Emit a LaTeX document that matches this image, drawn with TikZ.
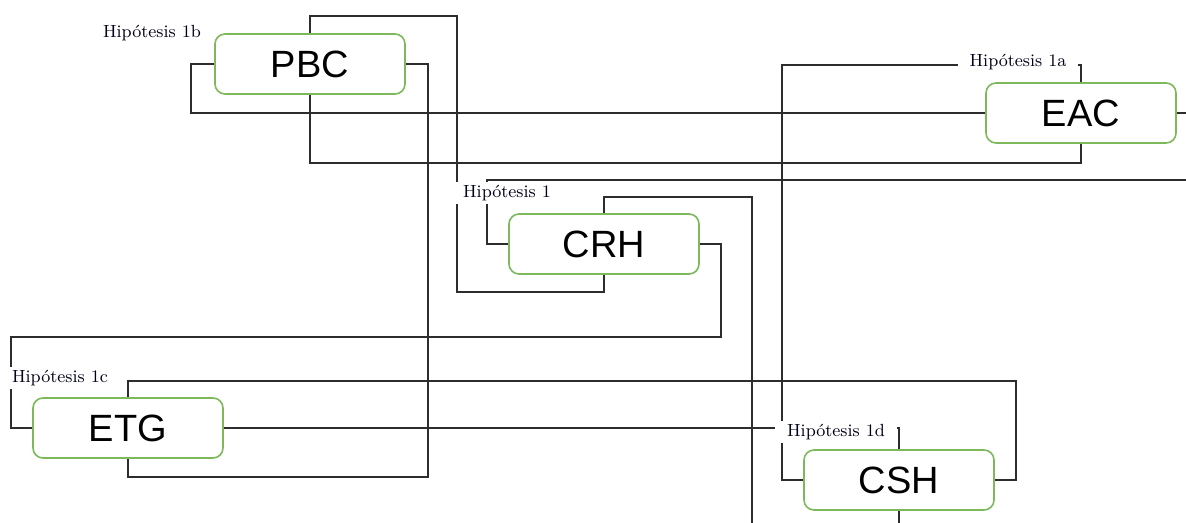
\documentclass[tikz,border=0pt]{standalone}
\usepackage{fontspec}
\usepackage{tikz}
\newfontfamily\boxfont{Liberation Sans}
\definecolor{boxgreen}{RGB}{125,185,90}
\definecolor{linegray}{RGB}{45,45,45}

\begin{document}
\begin{tikzpicture}[x=0.5pt,y=-0.5pt,
    box/.style={draw=boxgreen,line width=0.8pt,rounded corners=5pt,fill=white,
      minimum width=95pt,minimum height=30pt,inner sep=0pt,
      font=\boxfont\fontsize{19}{21}\selectfont},
    hyp/.style={fill=white,inner xsep=6pt,inner ysep=1.5pt,text=black!90!blue,
      font=\fontsize{8.8}{10}\selectfont},
    link/.style={draw=linegray,line width=0.9pt}]
            \useasboundingbox (0,0) rectangle (1186,523);
            \node[box] (pbc) at (310,64) {PBC};
            \node[box] (eac) at (1081,113) {EAC};
            \node[box] (crh) at (604,244) {CRH};
            \node[box] (etg) at (128,428) {ETG};
            \node[box] (csh) at (899,480) {CSH};
            \coordinate (crhout) at (752,523);
            \coordinate (cshout) at (899,523);
            \coordinate (rightout) at (1186,180);
            \coordinate (eacout) at (1186,113);
            \draw[link] (pbc.north) |- (457,16) -- (457,292) -| (crh.south);
            \draw[link] (pbc.west) -- ++(-23,0) |- (eac.west);
            \draw[link] (pbc.south) -- ++(0,68) -| (eac.south);
            \draw[link] (pbc.east) -| (428,477) -| (etg.south);
            \draw[link] (eac.north) |- (782,65) |- (csh.west);
            \draw[link] (eac.east) -- (eacout);
            \draw[link] (crh.north) |- (752,197) -- (crhout);
            \draw[link] (crh.west) -| (487,180) -- (rightout);
            \draw[link] (crh.east) -| (721,337) -- (11,337) |- (etg.west);
            \draw[link] (etg.north) |- (1016,381) |- (csh.east);
            \draw[link] (etg.east) -| (csh.north);
            \draw[link] (csh.south) -- (cshout);
            \node[hyp] (h1b) at (152,33) {Hipótesis 1b};
            \node[hyp] (h1a) at (1018,62) {Hipótesis 1a};
            \node[hyp] (h1) at (507,193) {Hipótesis 1};
            \node[hyp] (h1c) at (60,378) {Hipótesis 1c};
            \node[hyp] (h1d) at (836,432) {Hipótesis 1d};
        \end{tikzpicture}
\end{document}
